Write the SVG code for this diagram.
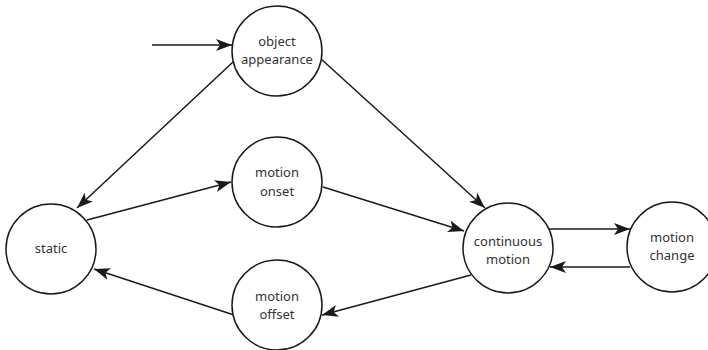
<svg xmlns="http://www.w3.org/2000/svg" width="708" height="350" viewBox="0 0 708 350">
  <style>
    .node circle { fill: #ffffff; stroke: #1a1a1a; stroke-width: 1.5; }
    .node text { font-family: "Noto Sans", "Open Sans", "Liberation Sans", sans-serif; font-size: 13px; fill: #333333; text-anchor: middle; }
    .edge { fill: none; stroke: #1a1a1a; stroke-width: 1.5; marker-end: url(#arrow); }
  </style>
  <defs>
    <marker id="arrow" markerUnits="userSpaceOnUse" markerWidth="18" markerHeight="14" refX="16" refY="7" orient="auto">
      <path d="M16,7 L0,1 L4,7 L0,13 Z" fill="#1a1a1a"/>
    </marker>
  </defs>
  <rect width="708" height="350" fill="#ffffff"/>

  <g id="connectors">
    <line class="edge" x1="152" y1="45" x2="232" y2="45"/>
    <line class="edge" x1="233" y1="62" x2="77" y2="208"/>
    <line class="edge" x1="87" y1="220" x2="231" y2="182"/>
    <line class="edge" x1="320" y1="58" x2="485" y2="208"/>
    <line class="edge" x1="323" y1="187" x2="464" y2="231"/>
    <line class="edge" x1="549" y1="229" x2="630" y2="229"/>
    <line class="edge" x1="630" y1="267" x2="550" y2="267"/>
    <line class="edge" x1="471" y1="275" x2="322" y2="315"/>
    <line class="edge" x1="234" y1="315" x2="94" y2="269"/>
  </g>

  <g id="object-appearance" class="node">
    <circle cx="277" cy="51" r="45"/>
    <text x="277" y="46">object</text>
    <text x="277" y="64">appearance</text>
  </g>
  <g id="motion-onset" class="node">
    <circle cx="277" cy="182" r="45"/>
    <text x="277" y="177">motion</text>
    <text x="277" y="196">onset</text>
  </g>
  <g id="motion-offset" class="node">
    <circle cx="277" cy="305" r="45"/>
    <text x="277" y="301">motion</text>
    <text x="277" y="319">offset</text>
  </g>
  <g id="static" class="node">
    <circle cx="51" cy="249" r="45"/>
    <text x="51" y="253">static</text>
  </g>
  <g id="continuous-motion" class="node">
    <circle cx="508" cy="248" r="45"/>
    <text x="508" y="246">continuous</text>
    <text x="508" y="264">motion</text>
  </g>
  <g id="motion-change" class="node">
    <circle cx="672" cy="247" r="45"/>
    <text x="672" y="242">motion</text>
    <text x="672" y="260">change</text>
  </g>
</svg>
